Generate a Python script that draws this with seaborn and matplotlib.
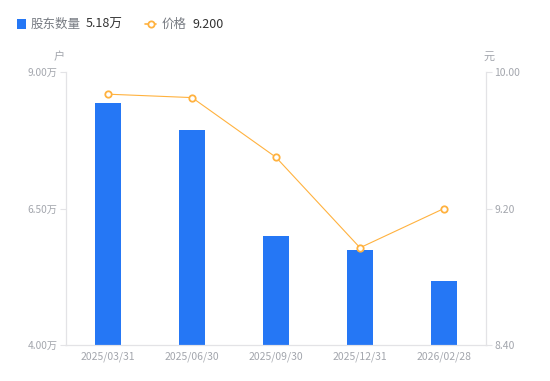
import matplotlib
matplotlib.use("Agg")
import matplotlib.pyplot as plt
import seaborn as sns
import pandas as pd
from matplotlib.patches import Rectangle
from matplotlib.lines import Line2D

dates = ["2025/03/31", "2025/06/30", "2025/09/30", "2025/12/31", "2026/02/28"]
holders = [8.44, 7.94, 6.00, 5.74, 5.18]   # 万户
price = [9.87, 9.85, 9.50, 8.97, 9.20]     # 元
left_ticks = [4.00, 6.50, 9.00]
right_ticks = [8.40, 9.20, 10.00]

BLUE = "#2577F5"
ORANGE = "#FFB23F"
GRID = "#E3E3E6"
TICK = "#A3A6AD"

sns.set_theme(style="white")
plt.rcParams["font.family"] = ["Noto Sans CJK SC", "DejaVu Sans"]

df = pd.DataFrame({"date": dates, "holders": holders, "price": price,
                   "pos": range(len(dates))})

fig = plt.figure(figsize=(5.5, 3.81), dpi=100)
ax = fig.add_axes([66 / 550, 36 / 381, 420 / 550, 273 / 381])

sns.barplot(data=df, x="pos", y="holders", color=BLUE, width=0.3,
            saturation=1, ax=ax, linewidth=0)
ax.set_xlim(-0.5, len(dates) - 0.5)
ax.set_ylim(left_ticks[0], left_ticks[-1])
ax.set_yticks(left_ticks)
ax.set_yticklabels([f"{v:.2f}万" for v in left_ticks])
ax.set_xticks(range(len(dates)))
ax.set_xticklabels(dates)
ax.set_xlabel("")
ax.set_ylabel("")

ax2 = ax.twinx()
sns.lineplot(data=df, x="pos", y="price", color=ORANGE, linewidth=0.8,
             marker="o", markersize=4.6, markerfacecolor="white",
             markeredgecolor=ORANGE, markeredgewidth=1.3, ax=ax2)
ax2.set_ylim(right_ticks[0], right_ticks[-1])
ax2.set_yticks(right_ticks)
ax2.set_yticklabels([f"{v:.2f}" for v in right_ticks])
ax2.set_ylabel("")
ax2.set_xlabel("")

for a in (ax, ax2):
    for s in a.spines.values():
        s.set_color(GRID)
        s.set_linewidth(0.8)
    a.spines["top"].set_visible(False)
    a.grid(False)
ax.tick_params(axis="y", colors=GRID, labelcolor=TICK, labelsize=7.3, length=4, width=0.8, pad=2, left=True)
ax.tick_params(axis="x", labelcolor=TICK, labelsize=7.5, length=0, pad=5)
ax2.tick_params(axis="y", colors=GRID, labelcolor=TICK, labelsize=7.5, length=4, width=0.8, pad=2, right=True)

# unit labels
fig.text(59 / 550, 1 - 57 / 381, "户", ha="center", va="center", fontsize=8, color=TICK)
fig.text(489 / 550, 1 - 57 / 381, "元", ha="center", va="center", fontsize=8, color=TICK)

# custom legend
ly = 1 - 24 / 381
fig.add_artist(Rectangle((17 / 550, ly - 5 / 381), 9 / 550, 10 / 381,
                         transform=fig.transFigure, color=BLUE, linewidth=0))
fig.text(31 / 550, ly, "股东数量", ha="left", va="center", fontsize=9, color="#777B82")
fig.text(86 / 550, ly, "5.18万", ha="left", va="center", fontsize=9, color="#333333")
fig.add_artist(Line2D([145 / 550, 156 / 550], [ly, ly], transform=fig.transFigure,
                      color=ORANGE, linewidth=1.2))
fig.add_artist(Line2D([150.5 / 550], [ly], transform=fig.transFigure, marker="o",
                      markersize=4.5, markerfacecolor="white", markeredgecolor=ORANGE,
                      markeredgewidth=1.3, linestyle="none"))
fig.text(162 / 550, ly, "价格", ha="left", va="center", fontsize=9, color="#777B82")
fig.text(192 / 550, ly, "9.200", ha="left", va="center", fontsize=9, color="#333333")

fig.savefig("out.png", dpi=100)
